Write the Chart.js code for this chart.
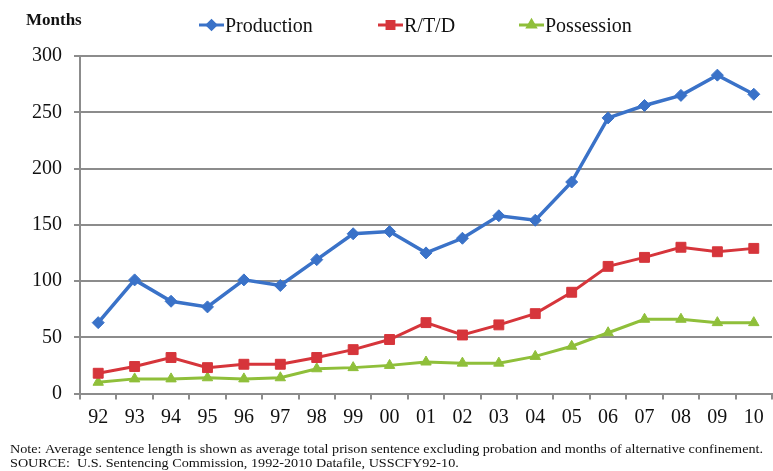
<!DOCTYPE html>
<html>
<head>
<meta charset="utf-8">
<script src="https://cdn.jsdelivr.net/npm/chart.js@4/dist/chart.umd.min.js"></script>
<style>
  html, body { margin: 0; padding: 0; background: #ffffff; overflow: hidden; }
  #wrap { position: relative; width: 780px; height: 471px; }
</style>
</head>
<body>
<div id="wrap"><canvas id="sentenceChart" width="780" height="471"></canvas></div>
<script>
const years = ["92", "93", "94", "95", "96", "97", "98", "99", "00", "01",
  "02", "03", "04", "05", "06", "07", "08", "09", "10"];

const production = [63, 101, 82, 77, 101, 96, 119, 142, 144, 125,
  138, 158, 154, 188, 245, 256, 265, 283, 266];
const rtd = [18, 24, 32, 23, 26, 26, 32, 39, 48, 63,
  52, 61, 71, 90, 113, 121, 130, 126, 129];
const possession = [10, 13, 13, 14, 13, 14, 22, 23, 25, 28,
  27, 27, 33, 42, 54, 66, 66, 63, 63];

const yTicks = [0, 50, 100, 150, 200, 250, 300];

const noteLines = [
  "Note: Average sentence length is shown as average total prison sentence excluding probation and months of alternative confinement.",
  "SOURCE:  U.S. Sentencing Commission, 1992-2010 Datafile, USSCFY92-10."
];

(() => {
  const serif = "'Liberation Serif', 'Times New Roman', serif";
  const gridGray = "#8c8c8c";

  const series = [
    { label: "Production", data: production, color: "#3a72c8", style: "rectRot", radius: 6, width: 3.5, legendX: 199 },
    { label: "R/T/D", data: rtd, color: "#d6353b", style: "rect", radius: 7, width: 3, legendX: 378 },
    { label: "Possession", data: possession, color: "#8fbf3a", style: "triangle", radius: 6, width: 3, legendX: 519 }
  ];

  // title, legend row and the footnote are painted straight onto the canvas
  const decorations = {
    id: "decorations",
    afterDraw(chart) {
      const ctx = chart.ctx;
      ctx.save();

      ctx.fillStyle = "#111111";
      ctx.font = `bold 17px ${serif}`;
      ctx.textBaseline = "alphabetic";
      ctx.textAlign = "left";
      ctx.fillText("Months", 26, 25);

      ctx.font = `20px ${serif}`;
      series.forEach((s) => {
        const y = 25;
        ctx.strokeStyle = s.color;
        ctx.fillStyle = s.color;
        ctx.lineWidth = 3;
        ctx.beginPath();
        ctx.moveTo(s.legendX, y);
        ctx.lineTo(s.legendX + 25, y);
        ctx.stroke();
        Chart.helpers.drawPoint(ctx, {
          pointStyle: s.style,
          radius: s.radius * 0.7,
          rotation: 0,
          borderWidth: 1
        }, s.legendX + 12.5, y);
        ctx.fillStyle = "#111111";
        ctx.fillText(s.label, s.legendX + 26, 32);
      });

      ctx.font = `12px ${serif}`;
      const scaleX = 753 / ctx.measureText(noteLines[0]).width;
      noteLines.forEach((line, i) => {
        ctx.save();
        ctx.translate(10, 453 + i * 14);
        ctx.scale(scaleX, 1);
        ctx.fillText(line, 0, 0);
        ctx.restore();
      });

      ctx.restore();
    }
  };

  const canvas = document.getElementById("sentenceChart");
  new Chart(canvas.getContext("2d"), {
    type: "line",
    data: {
      labels: years,
      datasets: series.map((s) => ({
        label: s.label,
        data: s.data,
        borderColor: s.color,
        backgroundColor: s.color,
        borderWidth: s.width,
        pointStyle: s.style,
        pointRadius: s.radius,
        pointBorderWidth: 1,
        pointBackgroundColor: s.color,
        pointBorderColor: s.color,
        tension: 0
      }))
    },
    options: {
      responsive: false,
      animation: false,
      layout: { padding: { top: 56, right: 0, bottom: 47, left: 0 } },
      plugins: {
        legend: { display: false },
        tooltip: { enabled: false }
      },
      scales: {
        x: {
          offset: true,
          grid: {
            offset: true,
            drawOnChartArea: false,
            drawTicks: true,
            tickLength: 6,
            color: gridGray,
            lineWidth: 2
          },
          border: { color: gridGray, width: 2 },
          ticks: {
            color: "#111111",
            font: { family: serif, size: 20 },
            padding: 6,
            maxRotation: 0,
            autoSkip: false
          },
          afterFit(scale) { scale.height = 30.5; }
        },
        y: {
          min: 0,
          max: 300,
          afterBuildTicks(scale) {
            scale.ticks = yTicks.map((v) => ({ value: v }));
          },
          grid: {
            color: gridGray,
            lineWidth: 2,
            tickLength: 6
          },
          border: { color: gridGray, width: 2 },
          ticks: {
            color: "#111111",
            font: { family: serif, size: 20 },
            padding: 12
          },
          afterFit(scale) { scale.width = 80; }
        }
      }
    },
    plugins: [decorations]
  });
})();
</script>
</body>
</html>
